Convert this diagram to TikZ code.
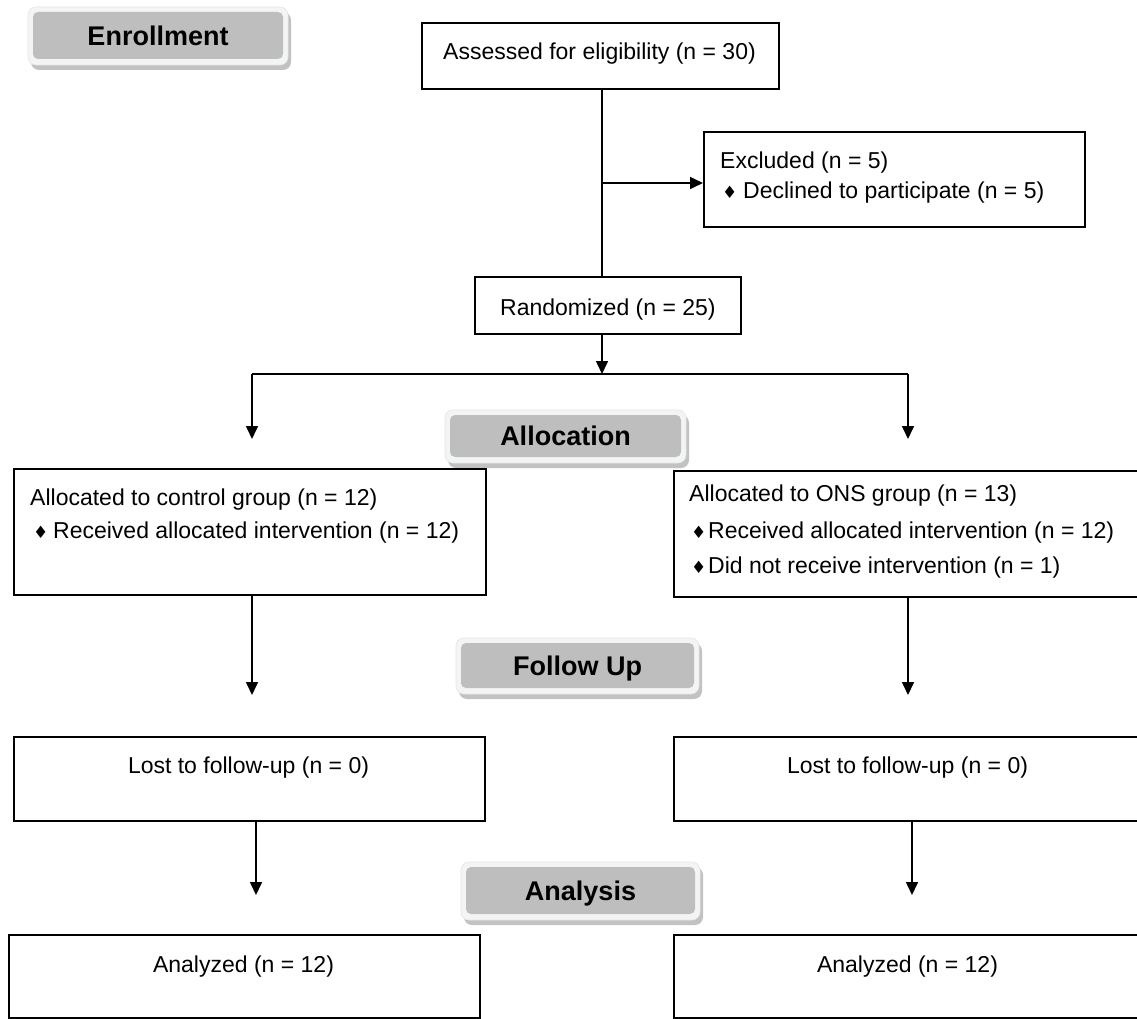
\documentclass[tikz,border=0pt]{standalone}
\usepackage{fontspec}
\setmainfont{Liberation Sans}
\newfontfamily\symfont{DejaVu Sans}
\usetikzlibrary{arrows.meta,calc}
\definecolor{bgray}{HTML}{BEBEBE}
\definecolor{bouter}{HTML}{F3F5F5}
\definecolor{bshadow}{HTML}{C2C2C2}
\newcommand\fs{\fontsize{23}{28}\selectfont}
\newcommand\bfs{\fontsize{27}{32}\selectfont\bfseries}
\newcommand\dia{{\symfont\fontsize{17}{17}\selectfont ♦}}
\newcommand\mybanner[6]{%
  \fill[bshadow, rounded corners=8] ({#2-#4/2-5+3},{#3-#5/2-5+5}) rectangle ++({#4+10},{#5+11});
  \fill[bouter, draw=gray!20, line width=0.6, rounded corners=8] ({#2-#4/2-5},{#3-#5/2-5}) rectangle ++({#4+10},{#5+11});
  \node[bannerbox, minimum width=#4, minimum height=#5] (#1) at (#2,#3) {#6};
}
\begin{document}
\begin{tikzpicture}[x=1pt,y=-1pt,
  box/.style={draw, line width=1.6, inner sep=0, anchor=north west, fill=white},
  txt/.style={inner sep=0, font=\fs},
  ln/.style={line width=1.6},
  arr/.style={line width=1.6, -{Triangle[length=13,width=12]}},
  bannerbox/.style={fill=bgray, rounded corners=5, inner sep=0, font=\bfs, text height=19.3, text depth=0}
]
\useasboundingbox (0,0) rectangle (1137,1019);
\clip (0,0) rectangle (1137,1019);
\fill[white] (0,0) rectangle (1137,1019);

% banners
\mybanner{enr}{158}{35.5}{250}{47}{Enrollment}
\mybanner{alloc}{565.5}{436}{231}{42}{Allocation}
\mybanner{follow}{577.5}{665.5}{233}{45}{Follow Up}
\mybanner{analysis}{580.5}{890.5}{229}{47}{Analysis}

% boxes
\node[box, minimum width=357, minimum height=66] (assess) at (421,22) {};
\node[txt, anchor=base] (assessT) at (599.5,60) {Assessed for eligibility (n = 30)};

\node[box, minimum width=381, minimum height=95] (excl) at (703,131) {};
\node[txt, anchor=base west] (exclT1) at (720,169) {Excluded (n = 5)};
\node[txt, anchor=base west] (exclD1) at (722,198) {\dia};
\node[txt, anchor=base west] (exclT2) at (743,198) {Declined to participate (n = 5)};

\node[box, minimum width=266, minimum height=57] (rand) at (474,276) {};
\node[txt, anchor=base west] (randT) at (500,315) {Randomized (n = 25)};

\node[box, minimum width=472, minimum height=126] (ctrl) at (13,468) {};
\node[txt, anchor=base west] (ctrlT1) at (30,505) {Allocated to control group (n = 12)};
\node[txt, anchor=base west] (ctrlD1) at (33,538) {\dia};
\node[txt, anchor=base west] (ctrlT2) at (53,538) {Received allocated intervention (n = 12)};

\node[box, minimum width=469, minimum height=126] (ons) at (673,470) {};
\node[txt, anchor=base west] (onsT1) at (689,501) {Allocated to ONS group (n = 13)};
\node[txt, anchor=base west] (onsD1) at (691,538) {\dia};
\node[txt, anchor=base west] (onsT2) at (708,538) {Received allocated intervention (n = 12)};
\node[txt, anchor=base west] (onsD2) at (691,573) {\dia};
\node[txt, anchor=base west] (onsT3) at (708,573) {Did not receive intervention (n = 1)};

\node[box, minimum width=471, minimum height=84] (lostL) at (13,736) {};
\node[txt, anchor=base] (lostLT) at (248.5,773) {Lost to follow-up (n = 0)};
\node[box, minimum width=469, minimum height=84] (lostR) at (673,736) {};
\node[txt, anchor=base] (lostRT) at (907.5,773) {Lost to follow-up (n = 0)};

\node[box, minimum width=471, minimum height=83] (anaL) at (8,934) {};
\node[txt, anchor=base] (anaLT) at (243.5,972) {Analyzed (n = 12)};
\node[box, minimum width=469, minimum height=83] (anaR) at (673,934) {};
\node[txt, anchor=base] (anaRT) at (907.5,972) {Analyzed (n = 12)};

% connectors
\coordinate (j1) at (602,183);
\coordinate (sM) at (602,374);
\coordinate (sL) at (252,374);
\coordinate (sR) at (908,374);
\coordinate (xL1) at (252,0);
\coordinate (xR1) at (908,0);
\coordinate (xL2) at (256,0);
\coordinate (xR2) at (912,0);

\draw[ln] (assess.south -| j1) -- (rand.north -| j1);
\draw[arr] (j1) -- (excl.west |- j1);
\draw[arr] (rand.south -| sM) -- (sM);
\draw[ln] (sL) -- (sR);
\draw[arr, shorten >=29] (sL) -- (ctrl.north -| sL);
\draw[arr, shorten >=31] (sR) -- (ons.north -| sR);
\draw[arr, shorten >=41] (ctrl.south -| xL1) -- (lostL.north -| xL1);
\draw[arr, shorten >=41] (ons.south -| xR1) -- (lostR.north -| xR1);
\draw[arr, shorten >=39] (lostL.south -| xL2) -- (anaL.north -| xL2);
\draw[arr, shorten >=39] (lostR.south -| xR2) -- (anaR.north -| xR2);
\end{tikzpicture}
\end{document}
